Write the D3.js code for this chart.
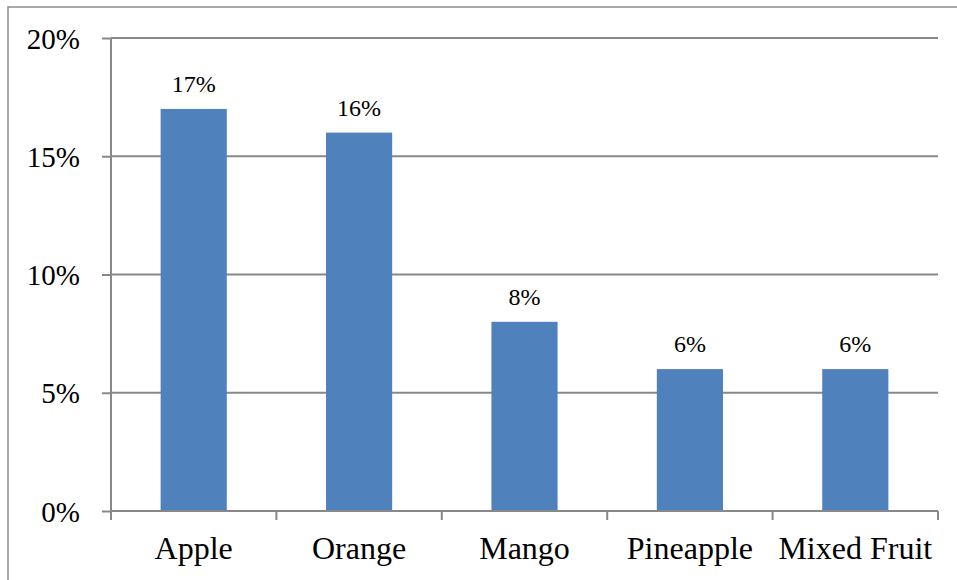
<!DOCTYPE html>
<html>
<head>
<meta charset="utf-8">
<script src="https://cdn.jsdelivr.net/npm/d3@7"></script>
<style>
  html, body { margin: 0; padding: 0; background: #fff; }
  svg { display: block; }
  text { font-family: "Liberation Serif", "Times New Roman", serif; fill: #000; }
</style>
</head>
<body>
<svg id="chart" width="957" height="580"></svg>
<script>
// Share of preference by juice flavour
const categories = ["Apple", "Orange", "Mango", "Pineapple", "Mixed Fruit"];
const values = [17, 16, 8, 6, 6];
const yTicks = [0, 5, 10, 15, 20];

const W = 957, H = 580;
const margin = { left: 111, right: 19, top: 38, bottom: 69 };
const svg = d3.select("#chart");
const serif = "Liberation Serif, Times New Roman, serif";

// Outer frame (runs off the right and bottom edges)
svg.append("rect")
  .attr("x", 8).attr("y", 7)
  .attr("width", 1000).attr("height", 700)
  .attr("fill", "none").attr("stroke", "#8c8c8c").attr("stroke-width", 1.5);

const x = d3.scaleBand()
  .domain(categories)
  .range([margin.left, W - margin.right])
  .padding(0);

const y = d3.scaleLinear()
  .domain([0, 20])
  .range([H - margin.bottom, margin.top]);

const gridColor = "#888888";

// Horizontal gridlines
svg.append("g")
  .selectAll("line")
  .data(yTicks.filter(d => d > 0))
  .join("line")
  .attr("x1", margin.left).attr("x2", W - margin.right)
  .attr("y1", d => y(d)).attr("y2", d => y(d))
  .attr("stroke", gridColor).attr("stroke-width", 2);

// Bars: 40% of each category slot, centred
const barW = x.bandwidth() * 0.4;
svg.append("g")
  .selectAll("rect")
  .data(values)
  .join("rect")
  .attr("x", (d, i) => x(categories[i]) + (x.bandwidth() - barW) / 2)
  .attr("y", d => y(d))
  .attr("width", barW)
  .attr("height", d => y(0) - y(d))
  .attr("fill", "#4F81BD");

// Value labels
svg.append("g")
  .selectAll("text")
  .data(values)
  .join("text")
  .attr("x", (d, i) => x(categories[i]) + x.bandwidth() / 2)
  .attr("y", d => y(d) - 17)
  .attr("text-anchor", "middle")
  .attr("font-family", serif)
  .attr("font-size", 24)
  .text(d => d + "%");

// Y axis
const yAxis = d3.axisLeft(y)
  .tickValues(yTicks)
  .tickFormat(d => d + "%")
  .tickSize(9)
  .tickPadding(22);
const gy = svg.append("g")
  .attr("transform", `translate(${margin.left},0)`)
  .call(yAxis);
gy.select(".domain").attr("stroke", gridColor).attr("stroke-width", 2)
  .attr("d", `M0,${y(0)}V${y(20)}`);
gy.selectAll(".tick line").attr("stroke", gridColor).attr("stroke-width", 2);
gy.selectAll(".tick text")
  .attr("font-size", 29)
  .attr("font-family", serif)
  .attr("fill", "#000")
  .attr("dy", "0.35em");

// X axis: ticks at category boundaries
const gx = svg.append("g")
  .attr("transform", `translate(0,${y(0)})`);
gx.append("line")
  .attr("x1", margin.left).attr("x2", W - margin.right)
  .attr("stroke", gridColor).attr("stroke-width", 2);
const bounds = categories.map(c => x(c)).concat([x(categories[categories.length - 1]) + x.bandwidth()]);
gx.selectAll("line.tk")
  .data(bounds)
  .join("line")
  .attr("class", "tk")
  .attr("x1", d => d).attr("x2", d => d)
  .attr("y1", 0).attr("y2", 9)
  .attr("stroke", gridColor).attr("stroke-width", 2);
gx.selectAll("text")
  .data(categories)
  .join("text")
  .attr("x", d => x(d) + x.bandwidth() / 2)
  .attr("y", 48)
  .attr("text-anchor", "middle")
  .attr("font-family", serif)
  .attr("font-size", 32)
  .text(d => d);
</script>
</body>
</html>
